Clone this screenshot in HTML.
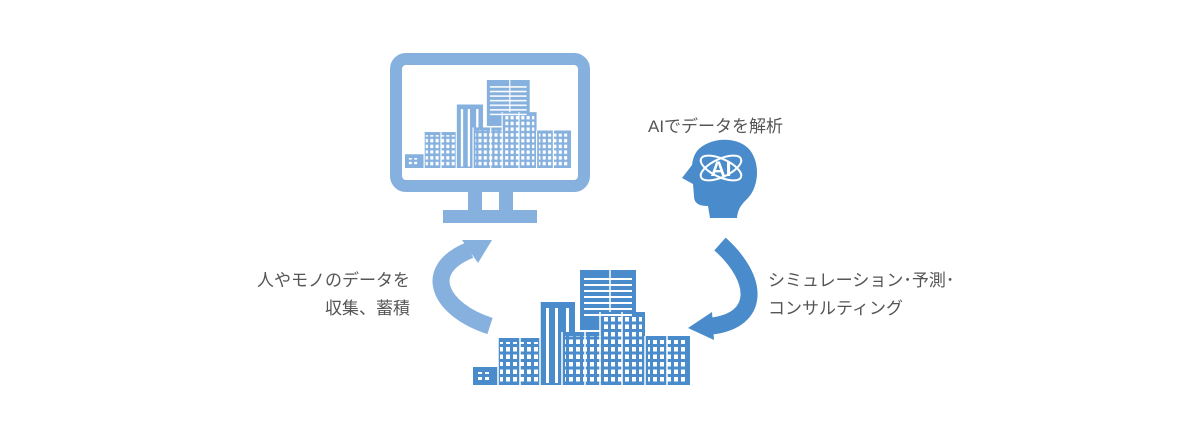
<!DOCTYPE html>
<html><head><meta charset="utf-8"><style>
html,body{margin:0;padding:0;background:#fff;width:1200px;height:440px;overflow:hidden}
text{font-family:"Liberation Sans","Noto Sans CJK JP",sans-serif;fill:#555}
</style></head><body>
<svg width="1200" height="440" viewBox="0 0 1200 440" xmlns="http://www.w3.org/2000/svg">
<defs>
<pattern id="win" x="0" y="0" width="7" height="7.5" patternUnits="userSpaceOnUse">
<rect x="2" y="2" width="4" height="4.5" fill="#fff"/></pattern>
<pattern id="stripe" x="0" y="0" width="10" height="6" patternUnits="userSpaceOnUse">
<rect x="0" y="2" width="10" height="2" fill="#fff"/></pattern>
<g id="city">
<rect x="473" y="367" width="27" height="18"/>
<rect x="498" y="338" width="44" height="47"/>
<rect x="540" y="302" width="35" height="83"/>
<rect x="580" y="270" width="56" height="60"/>
<rect x="562" y="332" width="45" height="53"/>
<rect x="600" y="312" width="45" height="73"/>
<rect x="645" y="336" width="45" height="49"/>
</g>
<g id="cityd" stroke="#fff" stroke-width="1.5">
<rect x="500" y="342" width="40" height="24" fill="url(#win)" stroke="none"/>
<rect x="500" y="368" width="40" height="15" fill="url(#win)" stroke="none"/>
<rect x="477" y="372" width="12" height="8" fill="url(#win)" stroke="none"/>
<rect x="546" y="308" width="3" height="75" fill="#fff" stroke="none"/>
<rect x="555" y="308" width="3" height="75" fill="#fff" stroke="none"/>
<rect x="566" y="308" width="3" height="24" fill="#fff" stroke="none"/>
<rect x="584" y="276" width="48" height="40" fill="url(#stripe)" stroke="none"/>
<rect x="565" y="336" width="40" height="47" fill="url(#win)" stroke="none"/>
<rect x="604" y="316" width="38" height="67" fill="url(#win)" stroke="none"/>
<rect x="648" y="340" width="40" height="43" fill="url(#win)" stroke="none"/>
<line x1="562" y1="332" x2="562" y2="385"/><line x1="600" y1="312" x2="600" y2="385"/>
<line x1="645" y1="336" x2="645" y2="385"/><line x1="540" y1="302" x2="540" y2="385"/>
<line x1="498" y1="338" x2="498" y2="385"/><line x1="520" y1="338" x2="520" y2="385"/>
<line x1="585" y1="332" x2="585" y2="385"/><line x1="622" y1="312" x2="622" y2="385"/>
<line x1="667" y1="336" x2="667" y2="385"/><line x1="610" y1="270" x2="610" y2="312"/>
</g>
</defs>

<!-- monitor -->
<rect x="396" y="59" width="188" height="127" rx="10" fill="none" stroke="#86b1de" stroke-width="12"/>
<rect x="468" y="192" width="45" height="18" fill="#86b1de"/>
<rect x="482" y="192" width="17" height="18" fill="#fff"/>
<rect x="443" y="210" width="94" height="13" fill="#86b1de"/>
<g transform="translate(405,168) scale(0.765) translate(-473,-385)">
<use href="#city" fill="#86b1de"/><use href="#cityd"/>
</g>

<!-- bottom city -->
<use href="#city" fill="#4a8ccb"/><use href="#cityd"/>

<!-- arrows -->
<path d="M490 326 C 440 310, 420 270, 470 250" fill="none" stroke="#86b1de" stroke-width="17"/>
<polygon points="462,240 492,240 478,263" fill="#86b1de"/>
<path d="M720 244 C 760 280, 760 320, 712 326" fill="none" stroke="#4a8ccb" stroke-width="17"/>
<polygon points="688,328 712,312 714,340" fill="#4a8ccb"/>

<!-- head -->
<path d="M700 148 C 712 138, 735 136, 748 148 C 760 160, 760 185, 748 198 C 742 204, 738 208, 737 218 L 710 218 L 708 206 C 700 206, 694 204, 694 196 L 693 184 L 682 178 L 692 165 C 693 158, 695 152, 700 148 Z" fill="#4a8ccb"/>
<ellipse cx="721" cy="168" rx="22" ry="9" fill="none" stroke="#fff" stroke-width="2" transform="rotate(25 721 168)"/>
<ellipse cx="721" cy="168" rx="22" ry="9" fill="none" stroke="#fff" stroke-width="2" transform="rotate(-25 721 168)"/>
<text x="721" y="176" text-anchor="middle" font-size="21" font-weight="bold" style="fill:#fff">AI</text>

<!-- labels -->
<text x="648" y="132" font-size="17">AIでデータを解析</text>
<text x="410" y="286" font-size="17" text-anchor="end">人やモノのデータを</text>
<text x="410" y="314" font-size="17" text-anchor="end">収集、蓄積</text>
<text x="768" y="286" font-size="17">シミュレーション･予測･</text>
<text x="768" y="314" font-size="17">コンサルティング</text>
</svg>
</body></html>
